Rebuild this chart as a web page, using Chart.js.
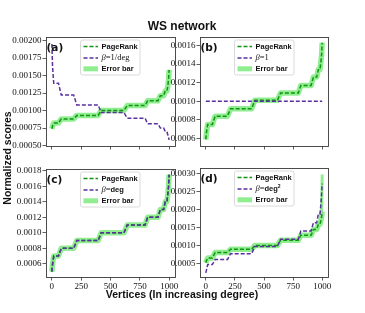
<!DOCTYPE html>
<html><head><meta charset="utf-8">
<script src="https://cdn.jsdelivr.net/npm/chart.js@4.4.1/dist/chart.umd.min.js"></script>
<style>
html,body{margin:0;padding:0;background:#fff;}
#wrap{position:relative;width:365px;height:313px;overflow:hidden;background:#fff;}
canvas{position:absolute;left:0;top:0;}
.lbl{position:absolute;font-family:'Liberation Sans',Arial,sans-serif;font-weight:bold;color:#111;white-space:nowrap;text-align:center;}
</style></head><body>
<div id="wrap">
<canvas id="ca" width="365" height="313"></canvas>
<canvas id="cb" width="365" height="313"></canvas>
<canvas id="cc" width="365" height="313"></canvas>
<canvas id="cd" width="365" height="313"></canvas>
<div class="lbl" style="left:0;top:20px;width:364px;font-size:12px;line-height:12px;">WS network</div>
<div class="lbl" style="left:0;top:288px;width:364px;font-size:10.5px;line-height:12px;">Vertices (In increasing degree)</div>
<div class="lbl" style="left:-93px;top:152px;width:200px;height:12px;font-size:10.5px;line-height:12px;transform:rotate(-90deg);transform-origin:100px 6px;">Normalized scores</div>
</div>
<script>
// ---- data (vertices sorted by increasing degree; step points) ----
const vertexX = [0, 6, 16, 56, 80, 186, 212, 394, 420, 614, 642, 794, 816, 904, 924, 952, 966, 980, 988, 994, 999];
const pageRankA = [0.00074, 0.00078, 0.00082, 0.00082, 0.00088, 0.00088, 0.00093, 0.00093, 0.00100, 0.00100, 0.00107, 0.00107, 0.00114, 0.00114, 0.00121, 0.00121, 0.00128, 0.00128, 0.00135, 0.00145, 0.00158];
const betaInvDegA = [0.00195, 0.00162, 0.00139, 0.00139, 0.00122, 0.00122, 0.00108, 0.00108, 0.00097, 0.00097, 0.00089, 0.00089, 0.00081, 0.00081, 0.00075, 0.00075, 0.00070, 0.00070, 0.00065, 0.00061, 0.00058];
const pageRankB = [0.00059, 0.00067, 0.00075, 0.00075, 0.00084, 0.00084, 0.00092, 0.00092, 0.00101, 0.00101, 0.00109, 0.00109, 0.00117, 0.00117, 0.00126, 0.00126, 0.00134, 0.00134, 0.00142, 0.00150, 0.00163];
const betaOneB = [0.001, 0.001, 0.001, 0.001, 0.001, 0.001, 0.001, 0.001, 0.001, 0.001, 0.001, 0.001, 0.001, 0.001, 0.001, 0.001, 0.001, 0.001, 0.001, 0.001, 0.001];
const pageRankC = [0.00050, 0.00060, 0.00070, 0.00070, 0.00080, 0.00080, 0.00090, 0.00090, 0.00100, 0.00100, 0.00110, 0.00110, 0.00120, 0.00120, 0.00130, 0.00130, 0.00140, 0.00140, 0.00150, 0.00160, 0.00175];
const betaDegC = [0.00050, 0.00060, 0.00070, 0.00070, 0.00080, 0.00080, 0.00090, 0.00090, 0.00100, 0.00100, 0.00110, 0.00110, 0.00120, 0.00120, 0.00130, 0.00130, 0.00140, 0.00140, 0.00150, 0.00160, 0.00175];
const pageRankD = [0.00053, 0.00059, 0.00066, 0.00066, 0.00081, 0.00081, 0.00090, 0.00090, 0.00101, 0.00101, 0.00115, 0.00115, 0.00129, 0.00129, 0.00145, 0.00145, 0.00159, 0.00159, 0.00170, 0.00180, 0.00194];
const betaDeg2D = [0.00025, 0.00034, 0.00048, 0.00048, 0.00062, 0.00062, 0.00078, 0.00078, 0.00098, 0.00098, 0.00118, 0.00118, 0.00141, 0.00141, 0.00164, 0.00164, 0.00187, 0.00187, 0.00215, 0.00244, 0.00272];
const errTopXD = [994, 999];
const errTopYD = [0.00180, 0.00297];
const xTicks = [0, 250, 500, 750, 1000];
const yTicksA = [0.0005, 0.00075, 0.001, 0.00125, 0.0015, 0.00175, 0.002];
const yTicksB = [0.0006, 0.0008, 0.001, 0.0012, 0.0014, 0.0016];
const yTicksC = [0.0006, 0.0008, 0.001, 0.0012, 0.0014, 0.0016, 0.0018];
const yTicksD = [0.0005, 0.001, 0.0015, 0.002, 0.0025, 0.003];

const GREEN = '#139313', PURPLE = '#5a2f9e', BAND = '#90ee90', FRAME = '#3a3a3a';
const SERIF = '"Liberation Serif", "DejaVu Serif", serif';
const SANS = '"Liberation Sans", Arial, sans-serif';

const pts = (xs, ys) => xs.map((x, i) => ({x: x, y: ys[i]}));

const framePlugin = {
  id: 'frameAndLegend',
  afterDraw(chart) {
    const o = chart.config.options.plugins.frameAndLegend;
    const ctx = chart.ctx, a = chart.chartArea;
    ctx.save();
    ctx.strokeStyle = FRAME; ctx.lineWidth = 0.9;
    ctx.strokeRect(Math.round(a.left) + 0.5, Math.round(a.top) + 0.5, Math.round(a.right) - Math.round(a.left), Math.round(a.bottom) - Math.round(a.top));
    ctx.fillStyle = '#111'; ctx.font = 'bold 10.5px "DejaVu Sans", sans-serif';
    ctx.textBaseline = 'middle'; ctx.textAlign = 'left';
    ctx.fillText(o.panel, a.left + 0.5, a.top + 11);
    const L = a.left + 34.5, T = a.top + 3, W = 59.5, H = 35, r = 2;
    ctx.beginPath();
    ctx.moveTo(L + r, T); ctx.lineTo(L + W - r, T); ctx.quadraticCurveTo(L + W, T, L + W, T + r);
    ctx.lineTo(L + W, T + H - r); ctx.quadraticCurveTo(L + W, T + H, L + W - r, T + H);
    ctx.lineTo(L + r, T + H); ctx.quadraticCurveTo(L, T + H, L, T + H - r);
    ctx.lineTo(L, T + r); ctx.quadraticCurveTo(L, T, L + r, T); ctx.closePath();
    ctx.fillStyle = 'rgba(255,255,255,0.85)'; ctx.fill();
    ctx.strokeStyle = '#d0d0d0'; ctx.lineWidth = 0.8; ctx.stroke();
    const rows = [T + 6.5, T + 18, T + 28.8];
    const sx0 = L + 3, sx1 = L + 17.5, tx = L + 21;
    ctx.lineWidth = 1.5; ctx.setLineDash([4, 2]);
    ctx.strokeStyle = GREEN; ctx.beginPath(); ctx.moveTo(sx0, rows[0]); ctx.lineTo(sx1, rows[0]); ctx.stroke();
    ctx.strokeStyle = PURPLE; ctx.beginPath(); ctx.moveTo(sx0, rows[1]); ctx.lineTo(sx1, rows[1]); ctx.stroke();
    ctx.setLineDash([]);
    ctx.fillStyle = BAND; ctx.fillRect(sx0, rows[2] - 2.5, sx1 - sx0, 5);
    ctx.fillStyle = '#111'; ctx.textBaseline = 'middle';
    ctx.font = 'bold 7.5px ' + SANS;
    ctx.fillText('PageRank', tx, rows[0]);
    ctx.fillText('Error bar', tx, rows[2]);
    let x = tx;
    o.beta.forEach(seg => {
      ctx.font = seg.f;
      ctx.fillText(seg.t, x, rows[1] + (seg.dy || 0));
      x += ctx.measureText(seg.t).width;
    });
    ctx.restore();
  }
};

function makeChart(id, area, yMin, yMax, yTicks, dec, showX, prData, betaData, panel, beta, extra) {
  const W = 365, H = 313, YW = 40, XH = 20;
  const datasets = [
    {data: pts(vertexX, betaData), borderColor: PURPLE, borderWidth: 1.5, borderDash: [4, 2], pointRadius: 0, fill: false, tension: 0, order: 0},
    {data: pts(vertexX, prData), borderColor: GREEN, borderWidth: 1.5, borderDash: [4, 2], pointRadius: 0, fill: false, tension: 0, order: 1},
    {data: pts(vertexX, prData), borderColor: BAND, borderWidth: 5.5, pointRadius: 0, fill: false, tension: 0, order: 2, borderJoinStyle: 'round'}
  ];
  if (extra) datasets.push({data: pts(extra[0], extra[1]), borderColor: BAND, borderWidth: 3, pointRadius: 0, fill: false, order: 3});
  return new Chart(document.getElementById(id), {
    type: 'line',
    data: {datasets: datasets},
    options: {
      responsive: false, animation: false, devicePixelRatio: 1, events: [],
      layout: {padding: {left: area.l - YW, top: area.t, right: W - area.r, bottom: H - area.b - XH}},
      plugins: {legend: {display: false}, tooltip: {enabled: false}, frameAndLegend: {panel: panel, beta: beta}},
      scales: {
        x: {type: 'linear', min: -50, max: 1049,
          afterBuildTicks: s => { s.ticks = xTicks.map(v => ({value: v})); },
          afterFit: s => { s.height = XH; },
          ticks: {display: showX, autoSkip: false, maxRotation: 0, padding: 0.5, color: '#111', font: {family: SERIF, size: 9}, callback: v => String(v)},
          grid: {display: true, drawOnChartArea: false, drawTicks: true, tickLength: 3.5, color: FRAME, lineWidth: 0.8},
          border: {display: false}},
        y: {type: 'linear', min: yMin, max: yMax,
          afterBuildTicks: s => { s.ticks = yTicks.map(v => ({value: v})); },
          afterFit: s => { s.width = YW; },
          ticks: {autoSkip: false, padding: 1, color: '#111', font: {family: SERIF, size: 9}, callback: v => Number(v).toFixed(dec)},
          grid: {display: true, drawOnChartArea: false, drawTicks: true, tickLength: 3.5, color: FRAME, lineWidth: 0.8},
          border: {display: false}}
      }
    },
    plugins: [framePlugin]
  });
}

const serifB = 'italic 8.5px ' + SERIF, serifN = '8.5px ' + SERIF;
makeChart('ca', {l: 46, t: 37, r: 175, b: 146}, 0.000493, 0.00205, yTicksA, 5, false, pageRankA, betaInvDegA, '(a)',
  [{t: 'β', f: serifB}, {t: '=1/deg', f: serifN}]);
makeChart('cb', {l: 200, t: 37, r: 328, b: 146}, 0.000519, 0.001691, yTicksB, 4, false, pageRankB, betaOneB, '(b)',
  [{t: 'β', f: serifB}, {t: '=1', f: serifN}]);
makeChart('cc', {l: 46, t: 169, r: 175, b: 277}, 0.000431, 0.001822, yTicksC, 4, true, pageRankC, betaDegC, '(c)',
  [{t: 'β', f: serifB}, {t: '=', f: serifN}, {t: 'deg', f: 'bold 7.5px ' + SANS}]);
makeChart('cd', {l: 200, t: 168, r: 328, b: 277}, 0.000135, 0.003152, yTicksD, 4, true, pageRankD, betaDeg2D, '(d)',
  [{t: 'β', f: serifB}, {t: '=', f: serifN}, {t: 'deg', f: 'bold 7.5px ' + SANS}, {t: '2', f: 'bold 5px ' + SANS, dy: -2.5}],
  [errTopXD, errTopYD]);
</script>
</body></html>
